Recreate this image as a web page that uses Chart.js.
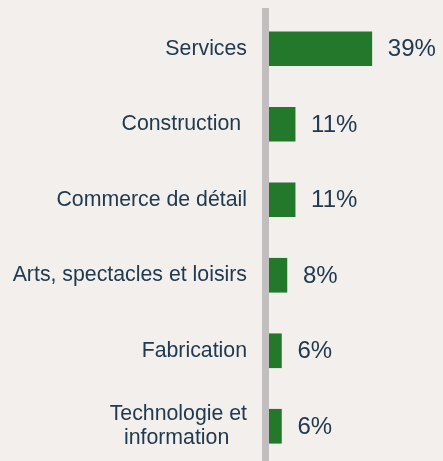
<!DOCTYPE html>
<html>
<head>
<meta charset="utf-8">
<script src="https://cdn.jsdelivr.net/npm/chart.js@4"></script>
<style>
  html, body { margin: 0; padding: 0; overflow: hidden; background: #f2efec; }
  canvas { display: block; }
</style>
</head>
<body>
<canvas id="myCanvas" width="443" height="466"></canvas>
<script>
// categories (trailing spaces kept so the labels sit like the original)
const categories = ["Services", "Construction ", "Commerce de détail", "Arts, spectacles et loisirs", "Fabrication", ["Technologie et", "information   "]];
const shares = [39, 11, 11, 8, 6, 6];
const valueLabels = ["39%", "11%", "11%", "8%", "6%", "6%"];

const textColor = "#213a4f";
const fontFamily = "'Liberation Sans', Arial, sans-serif";

// draws the % next to every bar
const valueLabelPlugin = {
  id: "valueLabels",
  afterDatasetsDraw(chart) {
    const ctx = chart.ctx;
    const meta = chart.getDatasetMeta(0);
    ctx.save();
    ctx.font = "24px " + fontFamily;
    ctx.fillStyle = textColor;
    ctx.textAlign = "left";
    ctx.textBaseline = "middle";
    meta.data.forEach(function (bar, i) {
      ctx.fillText(valueLabels[i], bar.x + 16, bar.y + 1);
    });
    ctx.restore();
  }
};

var c = document.getElementById("myCanvas");
var ctx = c.getContext("2d");

const barChart = new Chart(ctx, {
  type: "bar",
  data: {
    labels: categories,
    datasets: [{
      label: "Part",
      data: shares,
      backgroundColor: "#23782c",
      borderWidth: 0,
      barThickness: 34
    }]
  },
  options: {
    indexAxis: "y",
    responsive: false,
    animation: false,
    devicePixelRatio: 1,
    layout: { padding: { top: 11, bottom: 2, left: 0, right: 0 } },
    plugins: {
      legend: { display: false },
      tooltip: { enabled: false }
    },
    scales: {
      x: {
        display: false,
        min: 0,
        max: 65
      },
      y: {
        afterFit: function (scale) {
          scale.width = 265;
          scale.paddingTop = 0;
          scale.paddingBottom = 0;
        },
        grid: { display: false, drawTicks: false },
        border: { display: true, color: "#c0bfbd", width: 7, z: 1 },
        ticks: {
          color: textColor,
          padding: 18,
          font: { family: fontFamily, size: 21.3, lineHeight: 1.15 }
        }
      }
    }
  },
  plugins: [valueLabelPlugin]
});
</script>
</body>
</html>
